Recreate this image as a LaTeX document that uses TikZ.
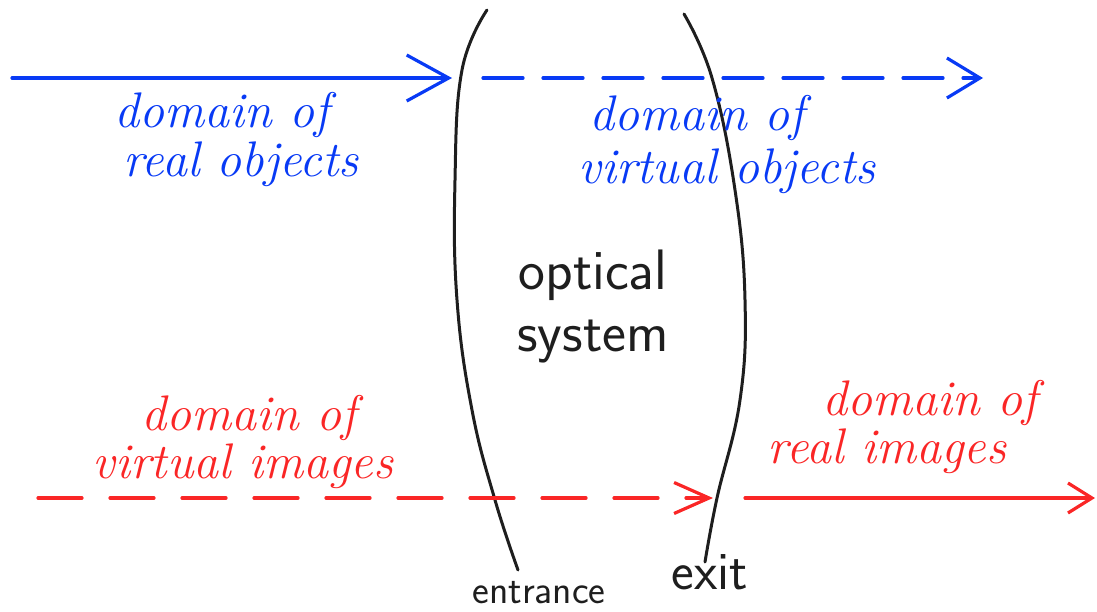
\documentclass[tikz,border=0pt]{standalone}
\usepackage{fontspec}
\usetikzlibrary{arrows.meta}
\definecolor{penblue}{RGB}{8,58,245}
\definecolor{penred}{RGB}{250,38,38}
\definecolor{penblack}{RGB}{30,30,30}
\begin{document}
\begin{tikzpicture}[x=1pt,y=-1pt,
  stroke/.style={line width=3.2pt,line cap=round,line join=round},
  lens/.style={stroke,line width=3pt,penblack},
  bluetxt/.style={penblue,anchor=base,inner sep=0pt,font=\fontsize{50}{52}\selectfont\itshape},
  redtxt/.style={penred,anchor=base,inner sep=0pt,font=\fontsize{50}{52}\selectfont\itshape},
  blacktxt/.style={penblack,anchor=base,inner sep=0pt,font=\fontsize{57}{60}\selectfont\sffamily},
  smalltxt/.style={penblack,anchor=base,inner sep=0pt,font=\fontsize{40}{42}\selectfont\sffamily},
  bluedash/.style={dash pattern=on 40pt off 20pt},
  reddash/.style={dash pattern=on 44pt off 28pt}]
\useasboundingbox (0,0) rectangle (1097,611);

% the two surfaces of the optical system
\draw[lens] plot[smooth,tension=0.7] coordinates
  {(487,10) (462,70) (455,180) (457,300) (472,410) (495,500) (518,570)};
\draw[lens] plot[smooth,tension=0.7] coordinates
  {(684,14) (712,78) (735,190) (745,300) (740,400) (717,498) (705,562)};

% object side axis
\coordinate (objA) at (12,78);
\coordinate (objB) at (452,78);
\coordinate (objC) at (483,78);
\coordinate (objD) at (983,78);
\draw[stroke,penblue,-{Straight Barb[length=42pt,width=46pt,line width=3.2pt]}] (objA) -- (objB);
\draw[stroke,penblue,bluedash,-{Straight Barb[length=33pt,width=40pt,line width=3.2pt]}] (objC) -- (objD);

% image side axis
\coordinate (imgA) at (38,498);
\coordinate (imgB) at (713,498);
\coordinate (imgC) at (745,498);
\coordinate (imgD) at (1095,498);
\draw[stroke,penred,reddash,-{Straight Barb[length=35pt,width=31pt,line width=3.2pt]}] (imgA) -- (imgB);
\draw[stroke,penred,-{Straight Barb[length=24pt,width=30pt,line width=3.2pt]}] (imgC) -- (imgD);

% labels
\node[bluetxt] (ro1) at (222,127) {domain of};
\node[bluetxt] (ro2) at (241,176) {real objects};
\node[bluetxt] (vo1) at (697,130) {domain of};
\node[bluetxt] (vo2) at (727,183) {virtual objects};
\node[blacktxt] (os1) at (593,289) {optical};
\node[blacktxt] (os2) at (593,351) {system};
\node[redtxt] (vi1) at (249,430) {domain of};
\node[redtxt] (vi2) at (243,478) {virtual images};
\node[redtxt] (ri1) at (930,415) {domain of};
\node[redtxt] (ri2) at (887,463) {real images};
\node[smalltxt] (ent) at (539,603) {entrance};
\node[smalltxt,font=\fontsize{54}{56}\selectfont\sffamily] (ext) at (710,589) {exit};
\end{tikzpicture}
\end{document}
